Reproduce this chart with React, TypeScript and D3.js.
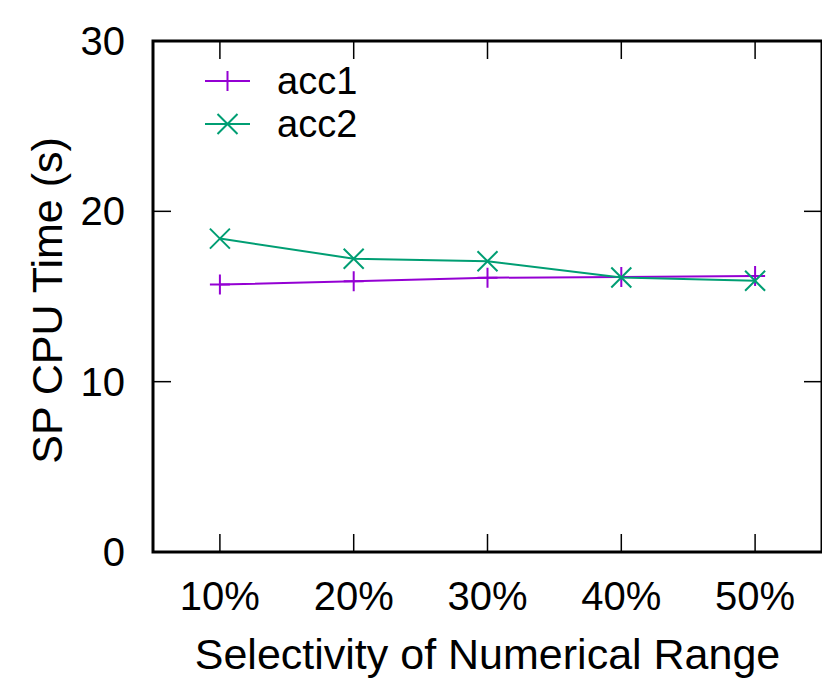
import * as d3 from "d3";
import React, { useRef, useEffect } from "react";

const categories = ["10%", "20%", "30%", "40%", "50%"];
const acc1 = [15.7, 15.9, 16.1, 16.15, 16.2];
const acc2 = [18.4, 17.22, 17.07, 16.12, 15.92];
const yTicks = [0, 10, 20, 30];

const width = 830;
const height = 690;
const margin = { top: 41, bottom: 138, left: 153, right: 8 };
const font = "'Liberation Sans', Arial, sans-serif";

function LineChart() {
  const ref = useRef(null);

  useEffect(() => {
    draw();
  }, []);

  const draw = () => {
    const svg = d3.select(ref.current);
    svg.selectAll("*").remove();
    const innerWidth = width - margin.left - margin.right;
    const innerHeight = height - margin.top - margin.bottom;

    const chart = svg.append("g").attr("transform", `translate(${margin.left}, ${margin.top})`);

    const xScale = d3.scaleLinear().domain([-0.5, 4.5]).range([0, innerWidth]);
    const yScale = d3.scaleLinear().domain([0, 30]).range([innerHeight, 0]);
    const tickLen = 18;

    // ticks (inward, mirrored)
    yTicks.forEach((t) => {
      chart.append("line").attr("x1", 0).attr("x2", tickLen).attr("y1", yScale(t)).attr("y2", yScale(t))
        .attr("stroke", "#000").attr("stroke-width", 1.5);
      chart.append("line").attr("x1", innerWidth - tickLen).attr("x2", innerWidth).attr("y1", yScale(t)).attr("y2", yScale(t))
        .attr("stroke", "#000").attr("stroke-width", 1.5);
      chart.append("text").attr("x", -28).attr("y", yScale(t)).attr("dy", "0.35em")
        .attr("text-anchor", "end").style("font-family", font).style("font-size", "40px").text(t);
    });
    categories.forEach((c, i) => {
      chart.append("line").attr("x1", xScale(i)).attr("x2", xScale(i)).attr("y1", innerHeight).attr("y2", innerHeight - tickLen)
        .attr("stroke", "#000").attr("stroke-width", 1.5);
      chart.append("line").attr("x1", xScale(i)).attr("x2", xScale(i)).attr("y1", 0).attr("y2", tickLen)
        .attr("stroke", "#000").attr("stroke-width", 1.5);
      chart.append("text").attr("x", xScale(i)).attr("y", innerHeight + 58)
        .attr("text-anchor", "middle").style("font-family", font).style("font-size", "40px").text(c);
    });

    const line = d3.line().x((d, i) => xScale(i)).y((d) => yScale(d));
    const series = [
      { name: "acc1", values: acc1, color: "#9400d3", shape: "plus" },
      { name: "acc2", values: acc2, color: "#009e73", shape: "cross" },
    ];

    const marker = (g, x, y, shape, color) => {
      const s = 10;
      const path = shape === "plus"
        ? `M${x - s},${y}H${x + s}M${x},${y - s}V${y + s}`
        : `M${x - s},${y - s}L${x + s},${y + s}M${x - s},${y + s}L${x + s},${y - s}`;
      g.append("path").attr("d", path).attr("stroke", color).attr("stroke-width", 2).attr("fill", "none");
    };

    series.forEach((s) => {
      chart.append("path").datum(s.values).attr("d", line).attr("fill", "none")
        .attr("stroke", s.color).attr("stroke-width", 2);
      s.values.forEach((v, i) => marker(chart, xScale(i), yScale(v), s.shape, s.color));
    });

    // legend
    series.forEach((s, i) => {
      const y = 40 + i * 43;
      chart.append("line").attr("x1", 52).attr("x2", 97).attr("y1", y).attr("y2", y)
        .attr("stroke", s.color).attr("stroke-width", 2);
      marker(chart, 74.5, y, s.shape, s.color);
      chart.append("text").attr("x", 124).attr("y", y).attr("dy", "0.35em")
        .style("font-family", font).style("font-size", "38px").text(s.name);
    });

    // border
    chart.append("rect").attr("x", 0).attr("y", 0).attr("width", innerWidth).attr("height", innerHeight)
      .attr("fill", "none").attr("stroke", "#000").attr("stroke-width", 3);

    chart.append("text").attr("x", innerWidth / 2).attr("y", innerHeight + 117)
      .attr("text-anchor", "middle").style("font-family", font).style("font-size", "43px")
      .text("Selectivity of Numerical Range");

    chart.append("text").attr("transform", `translate(${62 - margin.left}, ${innerHeight / 2 + 4}) rotate(-90)`)
      .attr("text-anchor", "middle").style("font-family", font).style("font-size", "43px")
      .text("SP CPU Time (s)");
  };

  return (
    <svg width={width} height={height} ref={ref} style={{ display: "block", background: "#fff" }}></svg>
  );
}

export default function App() {
  return (
    <div style={{ margin: -8 }}>
      <LineChart />
    </div>
  );
}
